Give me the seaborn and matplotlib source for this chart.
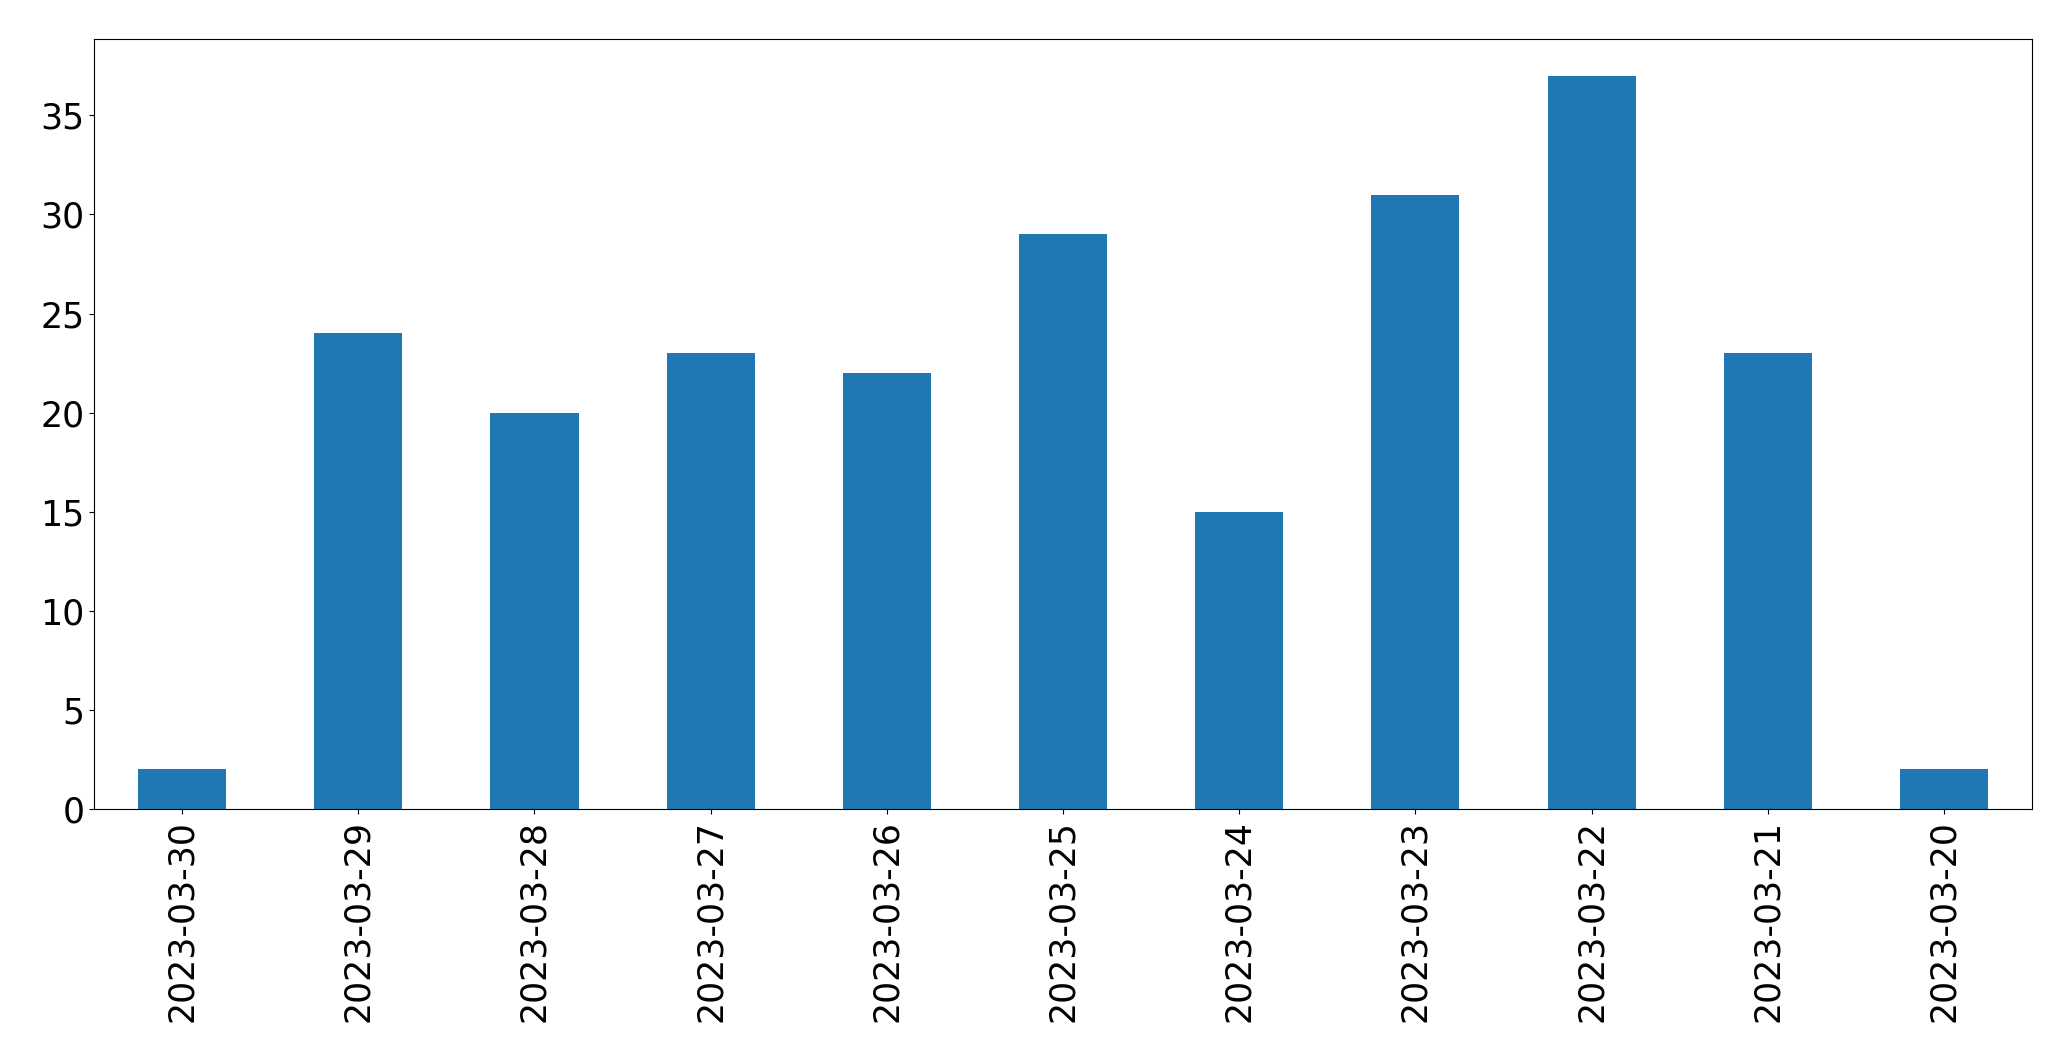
import numpy as np
import pandas as pd
import seaborn as sns
from matplotlib import pyplot as plt

dates = ['2023-03-30', '2023-03-29', '2023-03-28', '2023-03-27', '2023-03-26',
         '2023-03-25', '2023-03-24', '2023-03-23', '2023-03-22', '2023-03-21',
         '2023-03-20']
counts = [2, 24, 20, 23, 22, 29, 15, 31, 37, 23, 2]

df = pd.DataFrame({'date': dates, 'count': counts})

fig, ax = plt.subplots(figsize=(20.71, 10.61), dpi=100)
fig.subplots_adjust(left=0.0454, right=0.9812, top=0.9632, bottom=0.2375)

sns.barplot(data=df, x='date', y='count', color='#1f77b4', saturation=1,
            width=0.5, linewidth=0, ax=ax)

ax.set_xlim(-0.5, len(dates) - 0.5)
ax.set_ylim(0, max(counts) * 1.05)
ax.set_xlabel('')
ax.set_ylabel('')
ax.tick_params(axis='x', labelrotation=90, labelsize=25, pad=4.5)
ax.tick_params(axis='y', labelsize=25)

fig.savefig('out.png', dpi=100)
